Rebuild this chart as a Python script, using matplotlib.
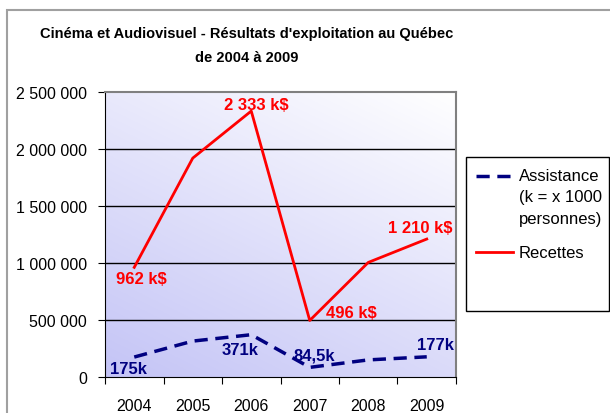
import numpy as np
import matplotlib.pyplot as plt
from matplotlib.patches import Rectangle
from matplotlib.lines import Line2D

years = ["2004", "2005", "2006", "2007", "2008", "2009"]
recettes = [962000, 1920000, 2333000, 496000, 1005000, 1210000]
assistance = [175000, 315000, 371000, 84500, 150000, 177000]
recettes_labels = ["962 k$", "", "2 333 k$", "496 k$", "", "1 210 k$"]
assistance_labels = ["175k", "", "371k", "84,5k", "", "177k"]
yticks = [0, 500000, 1000000, 1500000, 2000000, 2500000]

plt.rcParams['font.family'] = ['Liberation Sans', 'DejaVu Sans']

W, H = 610, 414
fig = plt.figure(figsize=(W / 100, H / 100), dpi=100)


def fx(px):
    return px / W


def fy(py):
    return 1 - py / H


# outer chart frame
fig.patches.append(Rectangle((fx(7), fy(430)), fx(620), 430 / H - 11 / H,
                             transform=fig.transFigure, fill=False,
                             edgecolor="#a0a0a0", lw=1.5))

ax = fig.add_axes([fx(105), fy(378), fx(351), 285 / H])

# gradient background (white top-right -> lavender bottom-left)
n = 200
gx, gy = np.meshgrid(np.linspace(0, 1, n), np.linspace(0, 1, n))
t = np.clip(((1 - gx) * 0.6 + gy * 1.0) / 1.6, 0, 1)
c0 = np.array([1.0, 1.0, 1.0])
c1 = np.array([196, 196, 246]) / 255
img = c0[None, None, :] * (1 - t[..., None]) + c1[None, None, :] * t[..., None]
ax.imshow(img, extent=[0, 1, 0, 1], transform=ax.transAxes, aspect="auto",
          zorder=0, origin="upper")

x = np.arange(len(years))
ax.set_xlim(-0.5, len(years) - 0.5)
ax.set_ylim(0, 2500000)

for v in yticks[1:-1]:
    ax.axhline(v, color="black", lw=1, zorder=1)

ax.plot(x, assistance, color="#000080", lw=2.5, dashes=(3.8, 2.2), zorder=3)
ax.plot(x, recettes, color="#ff0000", lw=2, zorder=3)

lab_font = dict(fontsize=12, fontweight="bold", ha="center", va="center", zorder=4)
rec_off = [(5, -8), None, (4, 5), (30, 5.4), None, (-5, 8)]
for i, lab in enumerate(recettes_labels):
    if lab:
        dx, dy = rec_off[i]
        ax.annotate(lab, (x[i], recettes[i]), xytext=(dx, dy),
                    textcoords="offset points", color="#ff0000", **lab_font)
ass_off = [(-4.3, -8), None, (-8, -11), (3.6, 9), None, (6, 9)]
for i, lab in enumerate(assistance_labels):
    if lab:
        dx, dy = ass_off[i]
        ax.annotate(lab, (x[i], assistance[i]), xytext=(dx, dy),
                    textcoords="offset points", color="#000080", **lab_font)

ax.set_yticks(yticks)
ax.set_yticklabels([f"{v:,}".replace(",", " ") for v in yticks], fontsize=11.5)
ax.set_xticks(np.arange(-0.5, len(years)))
ax.set_xticklabels([])
ax.set_xticks(x, minor=True)
ax.set_xticklabels(years, minor=True, fontsize=11.5)
ax.tick_params(axis="x", which="minor", length=0, pad=15)
ax.tick_params(axis="x", which="major", length=5, color="black")
ax.tick_params(axis="y", length=5, color="black", pad=8)

for side in ["top", "right"]:
    ax.spines[side].set_color("#808080")
    ax.spines[side].set_linewidth(1.5)
ax.spines["left"].set_color("black")
ax.spines["bottom"].set_color("black")

fig.text(fx(247), fy(34), "Cinéma et Audiovisuel - Résultats d'exploitation au Québec",
         ha="center", va="center", fontsize=10.5, fontweight="bold")
fig.text(fx(247), fy(58), "de 2004 à 2009", ha="center", va="center",
         fontsize=10.5, fontweight="bold")

# legend box, drawn by hand
fig.patches.append(Rectangle((fx(466), fy(312)), fx(143), 154 / H,
                             transform=fig.transFigure, fill=False,
                             edgecolor="black", lw=1))
fig.lines.append(Line2D([fx(476), fx(513)], [fy(177), fy(177)],
                        transform=fig.transFigure, color="#000080", lw=2.5,
                        dashes=(3.8, 2.2)))
fig.lines.append(Line2D([fx(476), fx(513)], [fy(253), fy(253)],
                        transform=fig.transFigure, color="#ff0000", lw=2))
leg_lines = [("Assistance", 177), ("(k = x 1000", 198), ("personnes)", 220),
             ("Recettes", 253)]
for s, py in leg_lines:
    fig.text(fx(519), fy(py), s, ha="left", va="center", fontsize=12)

fig.savefig("out.png", dpi=100)
